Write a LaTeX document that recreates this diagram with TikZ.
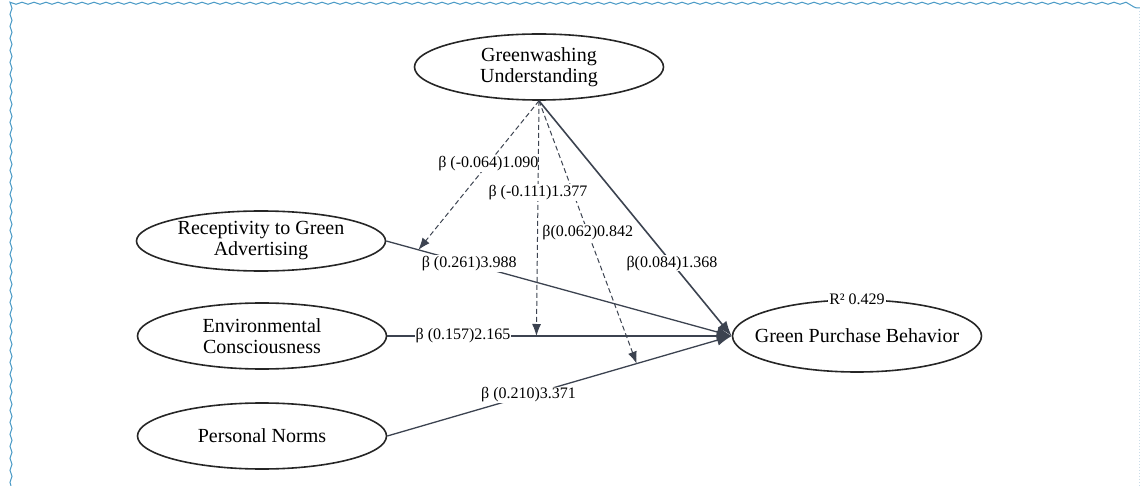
\documentclass[tikz,border=0pt]{standalone}
\usepackage{fontspec}
\setmainfont{Liberation Serif}
\usetikzlibrary{shapes.geometric,arrows.meta,calc,decorations.pathmorphing}
\definecolor{pathcol}{HTML}{3C4350}
\definecolor{framecol}{HTML}{4A9AC6}
\definecolor{edgecol}{HTML}{C9DCE8}
\tikzstyle{latent}=[draw=black!85,line width=1.6pt,shape=ellipse,minimum width=249pt,minimum height=66pt,inner sep=0pt,align=center,font=\fontsize{20}{21}\selectfont]
\tikzstyle{coef}=[fill=white,inner sep=1pt,font=\fontsize{16}{18}\selectfont]
\tikzstyle{effect}=[draw=pathcol,line width=1.3pt,-{Latex[length=15pt,width=11pt]}]
\tikzstyle{moder}=[draw=pathcol,line width=1pt,dash pattern=on 5pt off 3pt,-{Latex[length=12pt,width=9pt]}]

\begin{document}
\begin{tikzpicture}[x=1pt,y=-1pt]
	\useasboundingbox (0,0) rectangle (1140,486);
	% frame
	\draw[framecol, line width=1pt, decorate, decoration={snake, amplitude=1pt, segment length=12pt}] (11,486) -- (11,8) -- (1140,8);
	\draw[edgecol, dotted, line width=1pt] (1139,8) -- (1139,486);

	% constructs
	\node[latent] (gu) at (539,67) {Greenwashing\\Understanding};
	\node[latent, minimum height=60pt, inner xsep=-10pt] (rec) at (261,241) {Receptivity to Green\\Advertising};
	\node[latent] (env) at (262,336) {Environmental\\Consciousness};
	\node[latent] (pn) at (262,436) {Personal Norms};
	\node[latent, minimum height=72pt, inner xsep=-30pt] (gpb) at (857,336) {Green Purchase Behavior};
	\node[coef] (r2) at (gpb.north) {R² 0.429};

	% direct effects
	\draw[effect] (rec.east) -- node[coef,pos=0.24] (b1) {β (0.261)3.988} (gpb.west);
	\draw[effect, line width=2pt] (env.east) -- node[coef,pos=0.22] (b2) {β (0.157)2.165} (gpb.west);
	\draw[effect] (pn.east) -- node[coef,pos=0.41] (b3) {β (0.210)3.371} (gpb.west);
	\draw[effect, line width=1.6pt] (gu.south) -- node[coef,pos=0.69] (b4) {β(0.084)1.368} (gpb.west);

	% moderation
	\coordinate (m1) at ($(rec.east)!0.093!(gpb.west)$);
	\coordinate (m2) at ($(env.east)!0.433!(gpb.west)$);
	\coordinate (m3) at ($(pn.east)!0.724!(gpb.west)$);
	\draw[moder] (gu.south) -- node[coef,pos=0.42] (g1) {β (-0.064)1.090} (m1);
	\draw[moder] (gu.south) -- node[coef,pos=0.50] (g3) {β(0.062)0.842} (m3);
	\draw[moder] (gu.south) -- node[coef,pos=0.39] (g2) {β (-0.111)1.377} (m2);
\end{tikzpicture}
\end{document}
